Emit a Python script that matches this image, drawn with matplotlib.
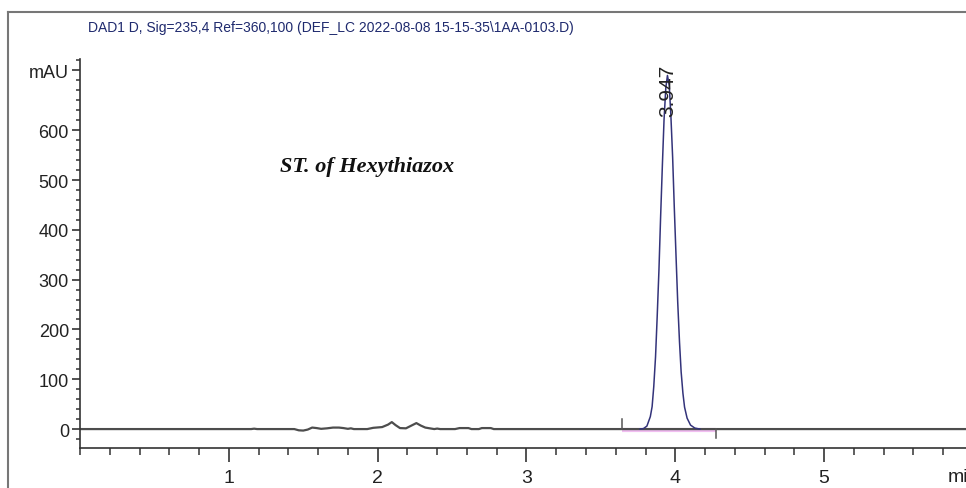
import numpy as np
import matplotlib.pyplot as plt
from matplotlib.ticker import FixedLocator, MultipleLocator

plt.rcParams['font.family'] = ['Liberation Sans', 'DejaVu Sans']

# Baseline trace (min, mAU) with the small humps before the main peak
base_time = [0.0, 1.15, 1.17, 1.19, 1.44, 1.47, 1.50, 1.53, 1.56, 1.59, 1.62,
             1.66, 1.70, 1.74, 1.77, 1.80, 1.82, 1.84, 1.93, 1.97, 2.03, 2.07,
             2.095, 2.12, 2.15, 2.19, 2.22, 2.26, 2.29, 2.32, 2.35, 2.38, 2.40,
             2.42, 2.52, 2.55, 2.61, 2.63, 2.68, 2.70, 2.76, 2.78, 5.953]
base_mau = [0, 0, 0.8, 0, 0, -2.5, -3, -1, 3, 2, 0.5,
            1.5, 3, 3, 2, 0.5, 1.5, 0, 0, 2.5, 4, 9,
            14, 8, 2, 1.5, 6, 12, 7, 3, 1.5, 0, 1,
            0, 0, 2, 2, 0, 0, 2, 2, 0, 0]

# Main peak (Hexythiazox)
peak_rt = 3.947
peak_time = [3.763, 3.786, 3.809, 3.832, 3.844, 3.855, 3.867, 3.878, 3.890,
             3.901, 3.913, 3.924, 3.936, 3.947, 3.959, 3.970, 3.982, 3.993,
             4.005, 4.016, 4.028, 4.039, 4.051, 4.062, 4.079, 4.102, 4.131, 4.165]
peak_mau = [0, 1, 6, 25, 45, 85, 145, 225, 320,
            425, 530, 620, 685, 710, 690, 630, 545, 445,
            345, 255, 175, 115, 72, 44, 22, 8, 2, 0]

# Integration start / end
integ_start = 3.64
integ_end = 4.27

y_major = [0, 100, 200, 300, 400, 500, 600, 720]
y_labels = ['0', '100', '200', '300', '400', '500', '600', 'mAU']
x_major = [1, 2, 3, 4, 5]

fig = plt.figure(figsize=(9.66, 4.89), dpi=100)
ax = fig.add_axes([80 / 966, 40 / 489, 886 / 966, 389 / 489])

ax.plot([integ_start, integ_end], [-2, -2], color='#e070e0', lw=3, alpha=0.45,
        solid_capstyle='butt', zorder=1)
ax.plot(base_time, base_mau, color='#4d4d4d', lw=1.6, zorder=2)
ax.plot(peak_time, peak_mau, color='#33337a', lw=1.1, zorder=3)
ax.plot([integ_start, integ_start], [0, 20], color='#555555', lw=1.1, zorder=2)
ax.plot([integ_end, integ_end], [0, -18], color='#555555', lw=1.1, zorder=2)

ax.text(peak_rt, 628, f'{peak_rt:.3f}', rotation=90, ha='center', va='bottom',
        fontsize=15, color='#222222', clip_on=False, zorder=4)
ax.text(1.343, 518, 'ST. of Hexythiazox', family='Liberation Serif',
        style='italic', weight='bold', fontsize=16, color='#111111',
        va='baseline')

ax.set_xlim(0, 5.953)
ax.set_ylim(-38, 743)

ax.spines['top'].set_visible(False)
ax.spines['right'].set_visible(False)
for s in ('left', 'bottom'):
    ax.spines[s].set_color('#333333')
    ax.spines[s].set_linewidth(1.2)

ax.yaxis.set_major_locator(FixedLocator(y_major))
ax.set_yticklabels(y_labels)
ax.yaxis.set_minor_locator(MultipleLocator(20))
ax.xaxis.set_major_locator(FixedLocator(x_major))
ax.xaxis.set_minor_locator(MultipleLocator(0.2))

ax.tick_params(axis='y', which='major', length=6, width=1.1, pad=2,
               labelsize=13, colors='#222222')
ax.tick_params(axis='y', which='minor', length=3, width=1.1, colors='#333333')
ax.tick_params(axis='x', which='major', length=10, width=1.1, pad=5,
               labelsize=14, colors='#222222')
ax.tick_params(axis='x', which='minor', length=5, width=1.1, colors='#333333')

fig.text(948 / 966, 11 / 489, 'min', fontsize=14, color='#222222',
         ha='left', va='center')

# outer frame and signal header
fig.add_artist(plt.Line2D([8 / 966, 1], [1 - 13 / 489, 1 - 13 / 489],
                          color='#777777', lw=1.5))
fig.add_artist(plt.Line2D([8 / 966, 8 / 966], [0, 1 - 13 / 489],
                          color='#777777', lw=1.5))
fig.text(88 / 966, 1 - 28 / 489,
         'DAD1 D, Sig=235,4 Ref=360,100 (DEF_LC 2022-08-08 15-15-35\\1AA-0103.D)',
         fontsize=10, color='#1f2a6e', ha='left', va='center')

fig.savefig('out.png', dpi=100)
